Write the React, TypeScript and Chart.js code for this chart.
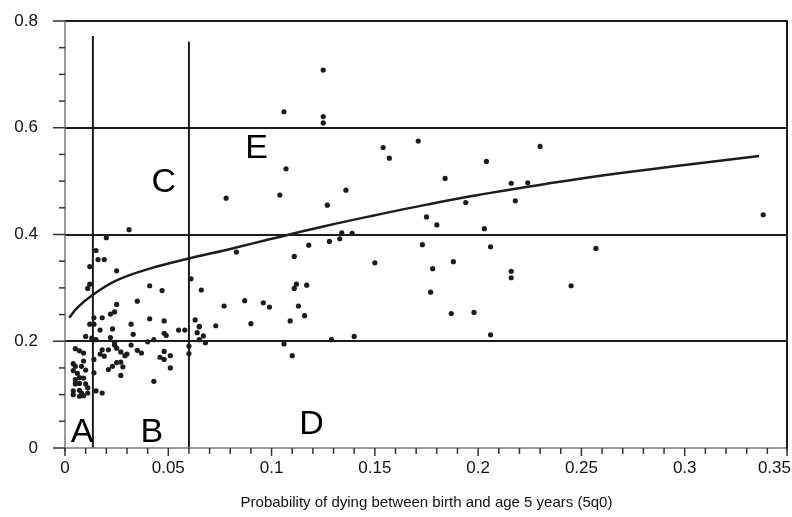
import React, { useEffect, useRef } from "react";
import { Chart, registerables } from "chart.js";

Chart.register(...registerables);

// Scatter observations: [5q0, ratio]
const dots: [number, number][] = [
  [0.106, 0.630], [0.125, 0.708], [0.125, 0.621], [0.125, 0.609], [0.107, 0.523], [0.078, 0.468],
  [0.104, 0.474], [0.136, 0.483], [0.127, 0.455], [0.154, 0.563], [0.157, 0.543], [0.171, 0.575],
  [0.134, 0.403], [0.139, 0.402], [0.133, 0.392], [0.128, 0.387], [0.118, 0.380],
  [0.230, 0.565], [0.204, 0.537], [0.184, 0.505], [0.216, 0.496], [0.224, 0.497], [0.194, 0.460],
  [0.218, 0.463], [0.175, 0.433], [0.180, 0.418], [0.203, 0.411],
  [0.173, 0.381], [0.206, 0.377], [0.257, 0.374], [0.188, 0.349], [0.178, 0.336], [0.216, 0.331],
  [0.216, 0.319], [0.245, 0.304], [0.177, 0.292], [0.187, 0.252], [0.198, 0.254], [0.206, 0.212],
  [0.338, 0.437],
  [0.083, 0.367], [0.111, 0.359], [0.150, 0.347], [0.066, 0.296], [0.111, 0.299], [0.112, 0.307],
  [0.117, 0.305], [0.077, 0.266], [0.087, 0.276], [0.096, 0.272], [0.099, 0.264], [0.113, 0.266],
  [0.116, 0.248], [0.109, 0.238], [0.073, 0.229], [0.090, 0.233], [0.065, 0.228], [0.067, 0.210],
  [0.068, 0.197], [0.106, 0.195], [0.110, 0.173], [0.129, 0.203], [0.140, 0.209],
  [0.031, 0.409], [0.061, 0.317], [0.041, 0.304], [0.047, 0.295], [0.035, 0.275], [0.041, 0.242],
  [0.048, 0.238], [0.032, 0.232], [0.063, 0.240], [0.065, 0.227], [0.055, 0.221], [0.058, 0.221],
  [0.048, 0.215], [0.049, 0.211], [0.033, 0.213], [0.064, 0.216], [0.043, 0.203], [0.040, 0.199],
  [0.065, 0.203], [0.032, 0.193], [0.035, 0.183], [0.037, 0.178], [0.060, 0.191], [0.060, 0.177],
  [0.048, 0.181], [0.046, 0.170], [0.048, 0.166], [0.051, 0.173], [0.051, 0.150], [0.043, 0.125],
  [0.020, 0.394], [0.015, 0.370], [0.016, 0.353], [0.019, 0.353], [0.012, 0.340], [0.025, 0.332],
  [0.012, 0.307], [0.011, 0.299], [0.025, 0.269], [0.024, 0.255], [0.022, 0.251], [0.014, 0.244],
  [0.018, 0.244], [0.012, 0.232], [0.014, 0.232], [0.017, 0.221], [0.023, 0.223], [0.010, 0.209],
  [0.013, 0.206], [0.015, 0.203], [0.022, 0.207], [0.024, 0.198],
  [0.005, 0.186], [0.007, 0.182], [0.009, 0.178], [0.014, 0.166], [0.017, 0.176], [0.018, 0.184],
  [0.019, 0.172], [0.021, 0.184], [0.024, 0.193], [0.025, 0.187], [0.027, 0.180], [0.029, 0.173],
  [0.030, 0.176], [0.023, 0.153], [0.021, 0.147], [0.025, 0.160], [0.027, 0.161], [0.028, 0.152],
  [0.027, 0.136], [0.014, 0.141], [0.015, 0.107], [0.018, 0.103], [0.004, 0.158], [0.005, 0.153],
  [0.004, 0.145], [0.006, 0.140], [0.008, 0.153], [0.009, 0.163], [0.010, 0.146], [0.005, 0.128],
  [0.007, 0.132], [0.009, 0.131], [0.005, 0.120], [0.007, 0.121], [0.010, 0.120], [0.004, 0.107],
  [0.007, 0.108], [0.008, 0.103], [0.011, 0.103], [0.004, 0.100], [0.007, 0.097], [0.009, 0.098],
  [0.011, 0.113],
];

// Fitted curve
const curveX = [0.002, 0.006, 0.0135, 0.025, 0.041, 0.06, 0.08, 0.1, 0.125, 0.15, 0.175, 0.2, 0.25, 0.3, 0.336];
const curveY = [0.244, 0.263, 0.287, 0.314, 0.336, 0.355, 0.373, 0.392, 0.415, 0.436, 0.456, 0.474, 0.505, 0.53, 0.547];

// Zone boundaries (vertical lines)
const boundaryX = [0.0135, 0.06];
const boundaryTop = [0.772, 0.761];

// Zone letters
const zoneLabels = ["A", "B", "C", "D", "E"];
const zoneX = [0.0083, 0.042, 0.0478, 0.1193, 0.0928];
const zoneY = [0.028, 0.028, 0.498, 0.043, 0.561];

const xTickValues = [0, 0.05, 0.1, 0.15, 0.2, 0.25, 0.3, 0.35];
const xTickLabels = ["0", "0.05", "0.1", "0.15", "0.2", "0.25", "0.3", "0.35"];
const yTickValues = [0, 0.2, 0.4, 0.6, 0.8];
const yTickLabels = ["0", "0.2", "0.4", "0.6", "0.8"];
const xTitle = "Probability of dying between birth and age 5 years (5q0)";

const FONT = "'Liberation Sans', Arial, sans-serif";
const INK = "#1c1c1c";

const decorPlugin = {
  id: "decor",
  afterDatasetsDraw(chart: any) {
    const { ctx, chartArea } = chart;
    const xs = chart.scales.x;
    const ys = chart.scales.y;
    const x0 = xs.getPixelForValue(0);
    const y0 = ys.getPixelForValue(0);
    ctx.save();
    // axis lines
    ctx.strokeStyle = "#7a7a7a";
    ctx.lineWidth = 1.5;
    ctx.beginPath();
    ctx.moveTo(x0, chartArea.top);
    ctx.lineTo(x0, y0 + 4);
    ctx.moveTo(x0, y0);
    ctx.lineTo(chartArea.right, y0);
    ctx.stroke();
    // right border
    ctx.strokeStyle = INK;
    ctx.lineWidth = 2;
    ctx.beginPath();
    ctx.moveTo(chartArea.right - 1, chartArea.top);
    ctx.lineTo(chartArea.right - 1, y0 + 2);
    ctx.stroke();
    // y ticks
    ctx.strokeStyle = "#333";
    ctx.lineWidth = 1.5;
    for (let i = 0; i <= 16; i++) {
      const v = i * 0.05;
      const p = ys.getPixelForValue(v);
      const len = i % 4 === 0 ? 12 : 6;
      ctx.beginPath();
      ctx.moveTo(x0 - len, p);
      ctx.lineTo(x0, p);
      ctx.stroke();
    }
    // x ticks
    for (let i = 0; i <= 35; i++) {
      const v = i * 0.01;
      const p = Math.min(xs.getPixelForValue(v), chartArea.right - 1);
      const len = i % 5 === 0 ? 8 : 6;
      ctx.beginPath();
      ctx.moveTo(p, y0);
      ctx.lineTo(p, y0 + len);
      ctx.stroke();
    }
    // tick labels
    ctx.fillStyle = "#111";
    ctx.font = `17px ${FONT}`;
    ctx.textAlign = "right";
    ctx.textBaseline = "middle";
    yTickValues.forEach((v, i) => {
      ctx.fillText(yTickLabels[i], x0 - 27, ys.getPixelForValue(v));
    });
    ctx.textBaseline = "top";
    xTickValues.forEach((v, i) => {
      const p = xs.getPixelForValue(v);
      const w = ctx.measureText(xTickLabels[i]).width;
      let cx = p;
      if (cx + w / 2 > chart.width - 1) cx = chart.width - 1 - w / 2;
      ctx.textAlign = "center";
      ctx.fillText(xTickLabels[i], cx, y0 + 12);
    });
    // axis title
    ctx.font = `15px ${FONT}`;
    ctx.textAlign = "center";
    ctx.textBaseline = "middle";
    ctx.fillText(xTitle, (x0 + chartArea.right) / 2, 503);
    // zone letters
    ctx.font = `34px ${FONT}`;
    ctx.fillStyle = "#000";
    zoneLabels.forEach((t, i) => {
      ctx.fillText(t, xs.getPixelForValue(zoneX[i]), ys.getPixelForValue(zoneY[i]));
    });
    ctx.restore();
  },
};

export default function App() {
  const ref = useRef<HTMLCanvasElement | null>(null);
  useEffect(() => {
    if (!ref.current) return;
    const boundarySets = boundaryX.map((bx, i) => ({
      type: "line" as const,
      data: [
        { x: bx, y: 0 },
        { x: bx, y: boundaryTop[i] },
      ],
      borderColor: INK,
      borderWidth: 2,
      pointRadius: 0,
      showLine: true,
      fill: false,
    }));
    const chart = new Chart(ref.current, {
      type: "scatter",
      data: {
        datasets: [
          {
            type: "line" as const,
            data: curveX.map((x, i) => ({ x, y: curveY[i] })),
            borderColor: INK,
            borderWidth: 2.5,
            pointRadius: 0,
            tension: 0.4,
            fill: false,
          } as any,
          ...boundarySets,
          {
            data: dots.map(([x, y]) => ({ x, y })),
            backgroundColor: INK,
            borderWidth: 0,
            pointRadius: 2.6,
          },
        ],
      },
      options: {
        responsive: false,
        animation: false,
        events: [],
        layout: { padding: { left: 65, top: 21, right: 2, bottom: 69 } },
        plugins: { legend: { display: false }, tooltip: { enabled: false } },
        scales: {
          x: {
            type: "linear",
            min: 0,
            max: 0.35,
            grid: { display: false, drawTicks: false },
            border: { display: false },
            ticks: { display: false },
          },
          y: {
            type: "linear",
            min: 0,
            max: 0.8,
            grid: {
              drawTicks: false,
              lineWidth: 2,
              color: (c: any) => {
                const v = c.tick ? c.tick.value : 0;
                return v > 0.01 ? INK : "rgba(0,0,0,0)";
              },
            },
            border: { display: false },
            ticks: { display: false, stepSize: 0.2 },
          },
        },
      },
      plugins: [decorPlugin],
    });
    return () => chart.destroy();
  }, []);
  return (
    <canvas
      ref={ref}
      width={792}
      height={517}
      style={{ position: "absolute", left: 0, top: 0, width: 792, height: 517 }}
    />
  );
}
